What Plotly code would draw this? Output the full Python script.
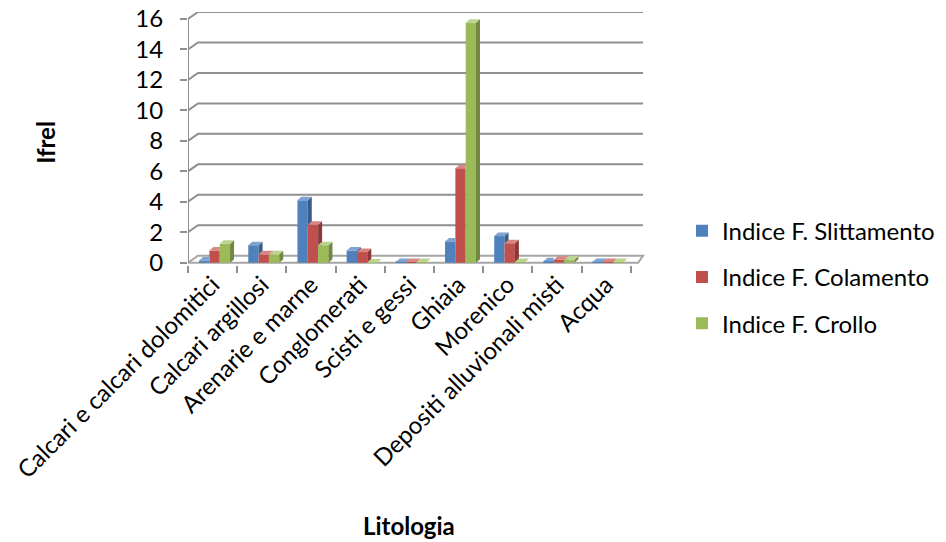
import plotly.graph_objects as go

# Lithology categories and index values
categories = [
    "Calcari e calcari dolomitici", "Calcari argillosi", "Arenarie e marne",
    "Conglomerati", "Scisti e gessi", "Ghiaia", "Morenico",
    "Depositi alluvionali misti", "Acqua",
]
slittamento = [0.15, 1.15, 4.1, 0.8, 0.05, 1.4, 1.75, 0.1, 0.05]
colamento = [0.8, 0.55, 2.5, 0.7, 0.05, 6.2, 1.28, 0.2, 0.05]
crollo = [1.25, 0.55, 1.15, 0.02, 0.05, 15.75, 0.05, 0.2, 0.05]
y_ticks = [0, 2, 4, 6, 8, 10, 12, 14, 16]

series = [
    ("Indice F. Slittamento", slittamento, "#4F81BD", "#385D8A", "#7FA3D1"),
    ("Indice F. Colamento", colamento, "#C0504D", "#8C3836", "#D98583"),
    ("Indice F. Crollo", crollo, "#9BBB59", "#71893F", "#BDD48F"),
]

FONT = "Lato"
FS = 24
W, H = 946, 542
L, R_PX = 188, 645          # plot area, pixels
TOP, BOT = 12, 265.3
X0, X1 = -0.5, 8.79
Y0, Y1 = -0.15, 16.46

# depth of the bars and of the back wall, in axis units
BAR_W = 0.21
BAR_DX, BAR_DY = 0.081, 0.23
WALL_DX, WALL_DY = 0.203, 0.46
FLOOR_FRONT_END = 8.65
WALL_END = 8.75


def px_x(px):
    return (px - L) / (R_PX - L)


def px_y(py):
    return (BOT - py) / (BOT - TOP)


def clip_above(poly, level):
    """Keep the part of a polygon with y >= level."""
    out = []
    n = len(poly)
    for i in range(n):
        (xa, ya), (xb, yb) = poly[i], poly[(i + 1) % n]
        ina, inb = ya >= level, yb >= level
        if ina:
            out.append((xa, ya))
        if ina != inb:
            t = (level - ya) / (yb - ya)
            out.append((xa + t * (xb - xa), level))
    return out


def clip_left(poly, xlim):
    """Keep the part of a polygon with x <= xlim."""
    out = []
    n = len(poly)
    for i in range(n):
        (xa, ya), (xb, yb) = poly[i], poly[(i + 1) % n]
        ina, inb = xa <= xlim, xb <= xlim
        if ina:
            out.append((xa, ya))
        if ina != inb:
            t = (xlim - xa) / (xb - xa)
            out.append((xlim, ya + t * (yb - ya)))
    return out


fig = go.Figure()

grid_col = "#8F8F8F"
shapes = []
# floor
shapes.append(dict(
    type="path", xref="x", yref="y", layer="below",
    path=(f"M {X0},0 L {FLOOR_FRONT_END},0 L {WALL_END},{WALL_DY} "
          f"L {X0 + WALL_DX},{WALL_DY} Z"),
    line=dict(color="#A6A6A6", width=2), fillcolor="white",
))
# back-wall gridlines with their side-wall segment
for v in y_ticks[1:]:
    shapes.append(dict(
        type="path", xref="x", yref="y", layer="below",
        path=f"M {X0},{v} L {X0 + WALL_DX},{v + WALL_DY} L {WALL_END},{v + WALL_DY}",
        line=dict(color=grid_col, width=2),
    ))
# front vertical axis line
shapes.append(dict(
    type="line", xref="x", yref="y", layer="below",
    x0=X0, x1=X0, y0=0, y1=y_ticks[-1],
    line=dict(color=grid_col, width=2),
))

offsets = [-BAR_W + 0.04, 0.04, BAR_W + 0.04]
idx = list(range(len(categories)))

# front faces
for k, (name, vals, col, _, _) in enumerate(series):
    fig.add_trace(go.Bar(
        x=[i + offsets[k] for i in idx], y=vals, width=BAR_W,
        name=name, marker=dict(color=col, line=dict(width=0)),
        legendgroup=name, xaxis="x", yaxis="y",
    ))

# side and top faces
for i in idx:
    for k, (name, vals, col, side, top) in enumerate(series):
        v = vals[i]
        xl = i + offsets[k] - BAR_W / 2
        xr = xl + BAR_W
        side_poly = [(xr, 0), (xr + BAR_DX, BAR_DY), (xr + BAR_DX, v + BAR_DY), (xr, v)]
        top_poly = [(xl, v), (xl + BAR_DX, v + BAR_DY), (xr + BAR_DX, v + BAR_DY), (xr, v)]
        if k < 2:
            vn = series[k + 1][1][i]
            side_poly = clip_above(side_poly, vn)
            if vn > v:
                top_poly = clip_left(top_poly, xr)
        for poly, fc in ((side_poly, side), (top_poly, top)):
            if len(poly) < 3:
                continue
            xs = [p[0] for p in poly] + [poly[0][0]]
            ys = [p[1] for p in poly] + [poly[0][1]]
            fig.add_trace(go.Scatter(
                x=xs, y=ys, mode="lines", fill="toself", fillcolor=fc,
                line=dict(width=0, color=fc), showlegend=False,
                hoverinfo="skip", xaxis="x", yaxis="y",
            ))

fig.update_layout(
    width=W, height=H,
    margin=dict(l=L, r=W - R_PX, t=TOP, b=H - BOT, autoexpand=False),
    paper_bgcolor="white", plot_bgcolor="white",
    font=dict(family=FONT, size=FS, color="#000000"),
    barmode="overlay", showlegend=True,
    xaxis=dict(
        range=[X0, X1], tickmode="array", tickvals=idx, ticktext=categories,
        tickangle=-45, ticks="", showgrid=False, zeroline=False, showline=False,
        tickfont=dict(size=FS), automargin=False,
    ),
    xaxis2=dict(
        overlaying="x", matches="x", side="bottom", anchor="y",
        tickmode="array", tickvals=[i - 0.5 for i in range(len(categories) + 1)],
        ticks="outside", ticklen=7, tickwidth=2, tickcolor=grid_col,
        showticklabels=False, showgrid=False, zeroline=False, showline=False,
        automargin=False,
    ),
    yaxis=dict(
        range=[Y0, Y1], tickmode="array", tickvals=y_ticks,
        ticks="outside", ticklen=7, tickwidth=2, tickcolor=grid_col,
        showgrid=False, zeroline=False, showline=False,
        tickfont=dict(size=FS), ticklabelstandoff=12, automargin=False,
    ),
    legend=dict(
        x=px_x(682), y=px_y(209), xanchor="left", yanchor="top",
        traceorder="grouped", tracegroupgap=12, font=dict(size=FS),
        bgcolor="rgba(0,0,0,0)",
    ),
    shapes=shapes,
    annotations=[
        dict(text="<b>Ifrel</b>", xref="paper", yref="paper",
             x=px_x(46), y=px_y(143), textangle=-90, showarrow=False,
             font=dict(size=FS), xanchor="center", yanchor="middle"),
        dict(text="<b>Litologia</b>", xref="paper", yref="paper",
             x=px_x(409), y=px_y(526), showarrow=False,
             font=dict(size=FS), xanchor="center", yanchor="middle"),
    ],
)
# invisible point on xaxis2 so its boundary ticks are rendered
fig.add_trace(go.Scatter(x=[0], y=[0], xaxis="x2", yaxis="y", mode="markers",
                         marker=dict(opacity=0), showlegend=False, hoverinfo="skip"))

fig.write_html("out.html")
